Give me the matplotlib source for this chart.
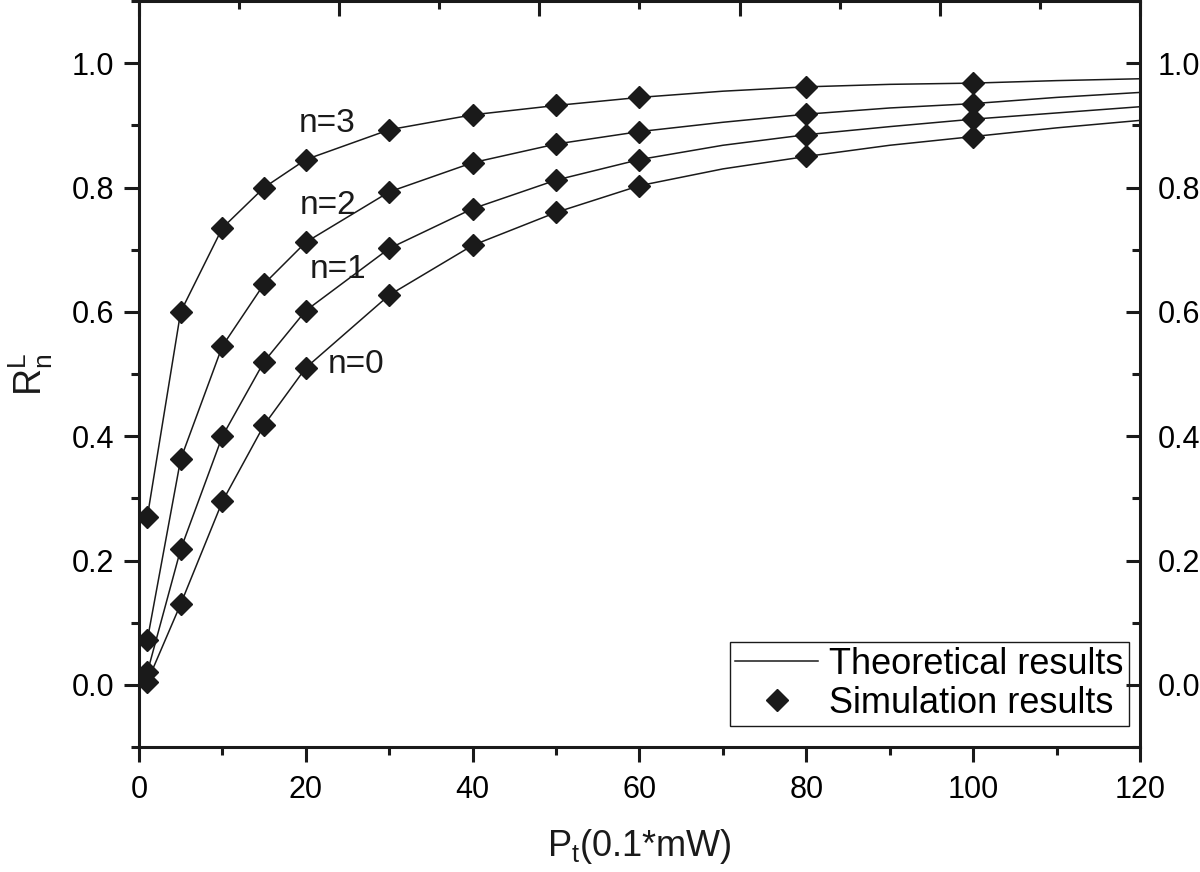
import matplotlib
matplotlib.use("Agg")
import matplotlib.pyplot as plt
from matplotlib.ticker import MultipleLocator, FormatStrFormatter

plt.rcParams['font.family'] = ['Liberation Sans', 'DejaVu Sans']
plt.rcParams['mathtext.fontset'] = 'custom'
plt.rcParams['mathtext.rm'] = 'Liberation Sans'
plt.rcParams['mathtext.it'] = 'Liberation Sans'

# simulation points
x_sim = [1, 5, 10, 15, 20, 30, 40, 50, 60, 80, 100]
sim_n0 = [0.005, 0.13, 0.295, 0.418, 0.51, 0.627, 0.707, 0.76, 0.803, 0.85, 0.882]
sim_n1 = [0.02, 0.218, 0.40, 0.52, 0.602, 0.702, 0.766, 0.812, 0.845, 0.885, 0.91]
sim_n2 = [0.072, 0.363, 0.545, 0.645, 0.712, 0.793, 0.84, 0.87, 0.89, 0.918, 0.935]
sim_n3 = [0.27, 0.60, 0.735, 0.80, 0.845, 0.893, 0.917, 0.932, 0.945, 0.962, 0.968]

# theoretical curves
x_th = [1, 5, 10, 15, 20, 30, 40, 50, 60, 70, 80, 90, 100, 110, 120]
th_n0 = [0.005, 0.13, 0.295, 0.418, 0.51, 0.627, 0.707, 0.76, 0.803, 0.83, 0.85, 0.868, 0.882, 0.896, 0.908]
th_n1 = [0.02, 0.218, 0.40, 0.52, 0.602, 0.702, 0.766, 0.812, 0.845, 0.868, 0.885, 0.898, 0.91, 0.92, 0.93]
th_n2 = [0.072, 0.363, 0.545, 0.645, 0.712, 0.793, 0.84, 0.87, 0.89, 0.905, 0.918, 0.928, 0.935, 0.945, 0.953]
th_n3 = [0.27, 0.60, 0.735, 0.80, 0.845, 0.893, 0.917, 0.932, 0.945, 0.955, 0.962, 0.966, 0.968, 0.972, 0.975]

labels = ["n=0", "n=1", "n=2", "n=3"]
label_x = [22.6, 20.5, 19.3, 19.1]
label_y = [0.502, 0.654, 0.758, 0.889]

color = '#1a1a1a'

fig = plt.figure(figsize=(12, 8.72), dpi=100)
ax = fig.add_axes([0.1158, 0.1433, 0.8342, 0.8555])

for i, (th, sim) in enumerate(zip([th_n0, th_n1, th_n2, th_n3], [sim_n0, sim_n1, sim_n2, sim_n3])):
    ax.plot(x_th, th, '-', color=color, lw=1.1,
            label='Theoretical results' if i == 0 else None, zorder=2)
    ax.plot(x_sim, sim, 'D', color=color, ms=11.5, mec=color,
            label='Simulation results' if i == 0 else None, zorder=3)

for t, lx, ly in zip(labels, label_x, label_y):
    ax.text(lx, ly, t, fontsize=24, color=color, va='baseline', ha='left')

ax.set_xlim(0, 120)
ax.set_ylim(-0.1, 1.1)
ax.xaxis.set_major_locator(MultipleLocator(20))
ax.xaxis.set_minor_locator(MultipleLocator(10))
ax.yaxis.set_major_locator(MultipleLocator(0.2))
ax.yaxis.set_minor_locator(MultipleLocator(0.1))
ax.yaxis.set_major_formatter(FormatStrFormatter('%.1f'))

for s in ax.spines.values():
    s.set_linewidth(2.2)
    s.set_color(color)

ax.tick_params(axis='x', which='both', direction='out', top=False, labelsize=22,
               width=2.2, color=color, pad=9)
ax.tick_params(axis='y', which='both', direction='out', left=True, right=False,
               labelsize=22, width=2.2, color=color, pad=7)
ax.tick_params(which='major', length=11)
ax.tick_params(which='minor', length=6)

# right axis: inward ticks with labels
axr = ax.twinx()
axr.set_ylim(ax.get_ylim())
axr.yaxis.set_major_locator(MultipleLocator(0.2))
axr.yaxis.set_minor_locator(MultipleLocator(0.1))
axr.yaxis.set_major_formatter(FormatStrFormatter('%.1f'))
axr.tick_params(axis='y', which='both', direction='in', labelsize=22, width=2.2,
                color=color, pad=13)
axr.tick_params(which='major', length=10)
axr.tick_params(which='minor', length=6)
for s in axr.spines.values():
    s.set_visible(False)

# top axis: inward ticks, no labels
axt = ax.twiny()
axt.set_xlim(ax.get_xlim())
axt.xaxis.set_major_locator(MultipleLocator(24))
axt.xaxis.set_minor_locator(MultipleLocator(12))
axt.tick_params(axis='x', which='both', direction='in', labeltop=False, width=2.2,
                color=color)
axt.tick_params(which='major', length=11)
axt.tick_params(which='minor', length=6)
for s in axt.spines.values():
    s.set_visible(False)

ax.set_xlabel(r'P$_\mathregular{t}$(0.1*mW)', fontsize=26, labelpad=16, color=color)
ax.set_ylabel(r'R$_\mathregular{n}^\mathregular{L}$', fontsize=27, labelpad=12, color=color)

leg = ax.legend(loc='lower right', bbox_to_anchor=(0.989, 0.028), fontsize=26,
                frameon=True, fancybox=False, edgecolor=color, framealpha=1,
                handlelength=2.3, handletextpad=0.3, borderpad=0.15,
                labelspacing=0.1, borderaxespad=0)
leg.get_frame().set_linewidth(1.0)

fig.savefig('out.png', dpi=100)
